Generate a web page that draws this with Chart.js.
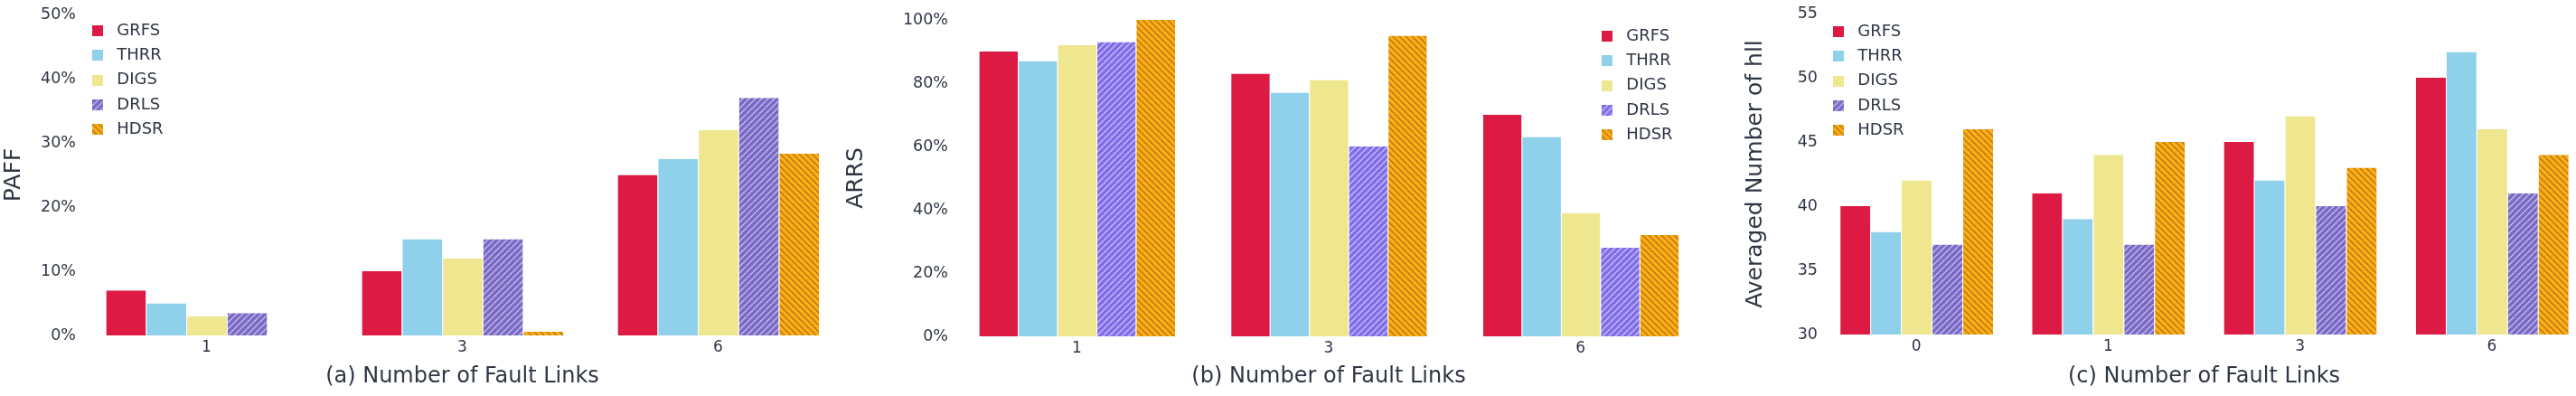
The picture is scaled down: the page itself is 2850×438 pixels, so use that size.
<!DOCTYPE html>
<html>
<head>
<meta charset="utf-8">
<script src="https://cdn.jsdelivr.net/npm/chart.js@4.4.1/dist/chart.umd.min.js"></script>
<style>
html,body{margin:0;padding:0;background:#fff;overflow:hidden}
#wrap{position:relative;width:2850px;height:438px;overflow:hidden}
canvas{position:absolute;top:0}
</style>
</head>
<body>
<div id="wrap">
<canvas id="cA" width="950" height="438" style="left:0px"></canvas>
<canvas id="cB" width="980" height="438" style="left:920px"></canvas>
<canvas id="cC" width="963" height="438" style="left:1900px"></canvas>
</div>
<script>
// methods and categories
const methods=["GRFS","THRR","DIGS","DRLS","HDSR"]
const linksAB=["1","3","6"]
const linksC=["0","1","3","6"]

// (a) PAFF, percent
const paffGRFS=[7,10,25]
const paffTHRR=[5,15,27.5]
const paffDIGS=[3,12,32]
const paffDRLS=[3.5,15,37]
const paffHDSR=[null,0.6,28.3]

// (b) ARRS, percent
const arrsGRFS=[90,83,70]
const arrsTHRR=[87,77,63]
const arrsDIGS=[92,81,39]
const arrsDRLS=[93,60,28]
const arrsHDSR=[100,95,32]

// (c) averaged number of hll
const hllGRFS=[40,41,45,50]
const hllTHRR=[38,39,42,52]
const hllDIGS=[42,44,47,46]
const hllDRLS=[37,37,40,41]
const hllHDSR=[46,45,43,44]

const txt="#2f3644"
const font="'DejaVu Sans', Verdana, sans-serif"

let hatch=(bg,fg,dir,lw)=>{
    let s=7
    let c=document.createElement("canvas")
    c.width=s;c.height=s
    let x=c.getContext("2d")
    x.fillStyle=bg
    x.fillRect(0,0,s,s)
    x.strokeStyle=fg
    x.lineWidth=lw
    x.beginPath()
    for(let k=-1;k<=1;k++){
        if(dir==="/"){x.moveTo(k*s,s);x.lineTo(k*s+s,0)}
        else{x.moveTo(k*s,0);x.lineTo(k*s+s,s)}
    }
    x.stroke()
    return c
}

let palette=(purple)=>{
    let tiles=[null,null,null,hatch(purple,"rgba(255,255,255,0.55)","/",1.4),hatch("#ffab12","#a8761e","\\",1.3)]
    let colors=["#dc1a44","#8fd1ea","#eee790",purple,"#ffab12"]
    return (ctx,i)=>tiles[i]?ctx.createPattern(tiles[i],"repeat"):colors[i]
}

let swatch=(fill,i)=>{
    let c=document.createElement("canvas")
    c.width=12;c.height=12
    let x=c.getContext("2d")
    x.fillStyle=fill(x,i)
    x.fillRect(0,0,12,12)
    return c
}

let placeLegend=(lx,ly)=>({
    id:"placeLegend",
    afterLayout(chart){
        let lg=chart.legend
        lg.left=lx;lg.right=lx+lg.width
        lg.top=ly;lg.bottom=ly+lg.height
    }
})

let makeChart=(el,cats,series,o)=>{
    let ctx=document.getElementById(el).getContext("2d")
    let fill=palette(o.purple)
    let swatches=methods.map((m,i)=>swatch(fill,i))
    return new Chart(ctx,{
        type:"bar",
        data:{
            labels:cats,
            datasets:series.map((d,i)=>({label:methods[i],data:d,backgroundColor:fill(ctx,i),borderWidth:{left:1,right:0,top:0,bottom:0},borderColor:"rgba(255,255,255,0.45)",borderSkipped:false,barPercentage:1,categoryPercentage:o.cat}))
        },
        options:{
            responsive:false,
            animation:false,
            layout:{padding:{left:0,top:o.top,right:o.right,bottom:0}},
            plugins:{
                tooltip:{enabled:false},
                legend:{
                    position:"chartArea",
                    align:"start",
                    labels:{
                        usePointStyle:true,
                        pointStyleWidth:24,
                        padding:9.3,
                        color:txt,
                        font:{family:font,size:18},
                        generateLabels:(chart)=>Chart.defaults.plugins.legend.labels.generateLabels(chart).map((it,i)=>({...it,pointStyle:swatches[i]}))
                    }
                }
            },
            scales:{
                x:{
                    grid:{display:false,drawTicks:false},
                    border:{display:false},
                    ticks:{color:txt,font:{family:font,size:17},padding:3},
                    title:{display:true,text:o.xTitle,color:txt,font:{family:font,size:24},padding:{top:0,bottom:7}},
                    afterFit:(s)=>{s.height=o.xh}
                },
                y:{
                    min:o.min,max:o.max,
                    grid:{display:false,drawTicks:false},
                    border:{display:false},
                    ticks:{stepSize:o.step,color:txt,font:{family:font,size:17.5},padding:3,callback:o.fmt},
                    title:{display:true,text:o.yTitle,color:txt,font:{family:font,size:25},padding:{top:o.ytp,bottom:0}},
                    afterFit:(s)=>{s.width=o.yw}
                }
            }
        },
        plugins:[placeLegend(o.lx,o.ly)]
    })
}

makeChart("cA",linksAB,[paffGRFS,paffTHRR,paffDIGS,paffDRLS,paffHDSR],{
    cat:0.79,top:16,right:14,xh:67,yw:87,min:0,max:50,step:10,fmt:(v)=>v+"%",purple:"#7a69c6",
    xTitle:"(a) Number of Fault Links",yTitle:"PAFF",ytp:0,lx:87,ly:15.7
})
makeChart("cB",linksAB,[arrsGRFS,arrsTHRR,arrsDIGS,arrsDRLS,arrsHDSR],{
    cat:0.78,top:22,right:12,xh:66,yw:132,min:0,max:100,step:20,fmt:(v)=>v+"%",purple:"#806ee8",
    xTitle:"(b) Number of Fault Links",yTitle:"ARRS",ytp:12,lx:837,ly:21.7
})
makeChart("cC",linksC,[hllGRFS,hllTHRR,hllDIGS,hllDRLS,hllHDSR],{
    cat:0.8,top:15,right:0,xh:68,yw:114,min:30,max:55,step:5,fmt:(v)=>v,purple:"#7a69c6",
    xTitle:"(c) Number of Fault Links",yTitle:"Averaged Number of hll",ytp:27,lx:113,ly:16.7
})
</script>
</body>
</html>
